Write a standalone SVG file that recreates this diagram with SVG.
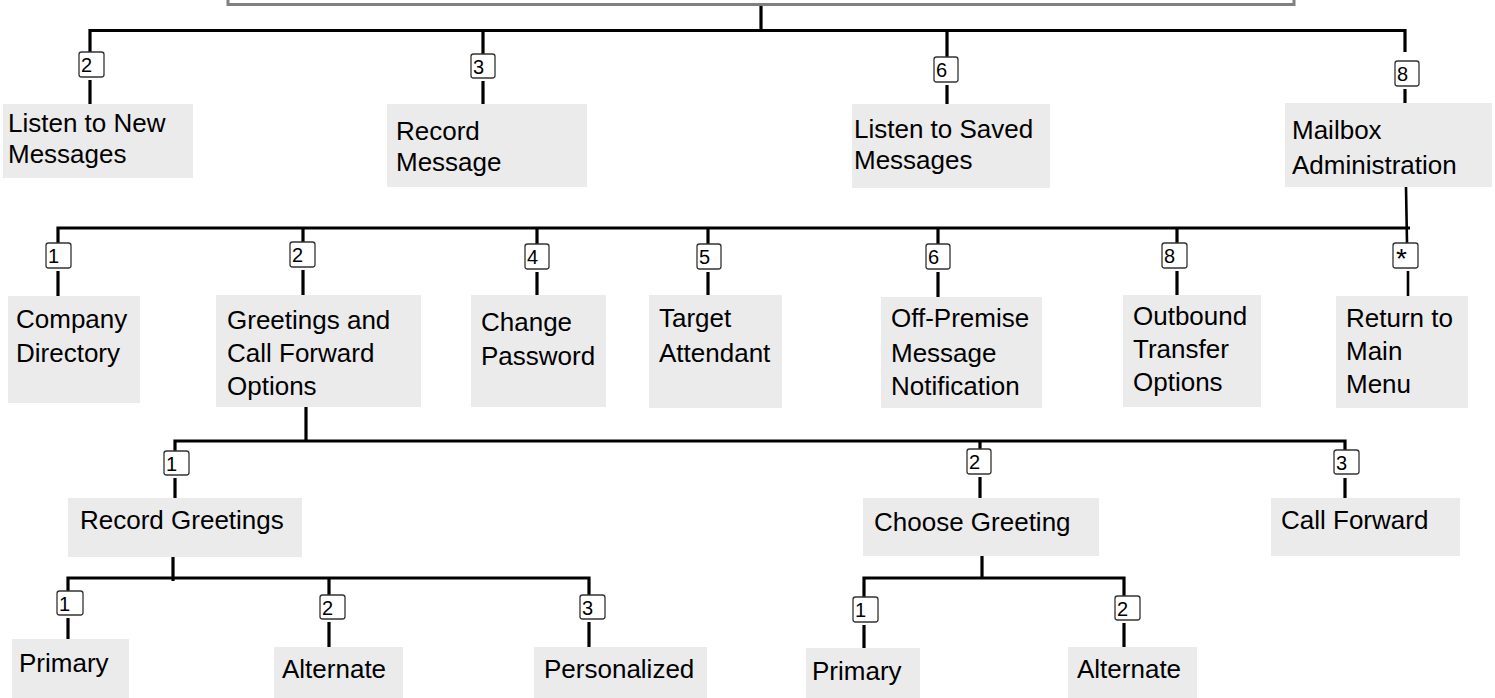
<svg xmlns="http://www.w3.org/2000/svg" width="1495" height="698" viewBox="0 0 1495 698">
<style>
.node{fill:#ebebeb;stroke:none}
.lbl{font-family:"Liberation Sans",Arial,Helvetica,sans-serif;font-size:26px;fill:#000}
.key{fill:#fff;stroke:#333;stroke-width:1.3}
.kt{font-family:"Liberation Sans",Arial,Helvetica,sans-serif;font-size:20px;fill:#000}
.ks{font-family:"Liberation Sans",Arial,Helvetica,sans-serif;font-size:28px;fill:#000}
.ln{fill:none;stroke:#000;stroke-width:3.2}
.ln2{fill:none;stroke:#000;stroke-width:2.6}
</style>
<rect width="1495" height="698" fill="#fff"/>
<g id="root">
<rect x="228" y="-30" width="1066" height="34.5" fill="none" stroke="#808080" stroke-width="3"/>
</g>
<g id="connectors">
<path class="ln" d="M761,6V32M90,34V30.5H1405V52M90,32V52M90,80V104M483,32V54M483,81V104M947,32V57M947,85V104M1405,89V103"/>
<path class="ln2" d="M1406,187L1407,243M1408,271V296"/>
<path class="ln" d="M58,243V228H1410M303,228V242M303,270V295M58,271V296M537,228V244M537,272V295M708,228V244M708,272V295M938,228V244M938,272V297M1177,228V243M1177,271V295"/>
<path class="ln" d="M306,407V441M175,451V441H1345V450M980,441V449M980,477V498M175,478V498M1345,478V498"/>
<path class="ln" d="M173,557V581M68,591V578H589V595M329,578V595M329,622V647M68,618V639M589,622V647"/>
<path class="ln" d="M982,556V578M864,597V578H1124V596M864,625V648M1124,623V647"/>
</g>
<g id="keys">
<rect class="key" x="79" y="52" width="25" height="25" rx="2.5"/><text class="kt" x="81" y="72">2</text>
<rect class="key" x="471" y="54" width="24" height="24" rx="2.5"/><text class="kt" x="473" y="73.5">3</text>
<rect class="key" x="934" y="57" width="24" height="25" rx="2.5"/><text class="kt" x="936" y="77">6</text>
<rect class="key" x="1395" y="61" width="24" height="25" rx="2.5"/><text class="kt" x="1397" y="81">8</text>
<rect class="key" x="46" y="243" width="25" height="25" rx="2.5"/><text class="kt" x="48" y="263">1</text>
<rect class="key" x="290" y="242" width="25" height="25" rx="2.5"/><text class="kt" x="292" y="262">2</text>
<rect class="key" x="525" y="244" width="24" height="25" rx="2.5"/><text class="kt" x="527" y="264">4</text>
<rect class="key" x="697" y="244" width="24" height="25" rx="2.5"/><text class="kt" x="699" y="264">5</text>
<rect class="key" x="926" y="244" width="24" height="25" rx="2.5"/><text class="kt" x="928" y="264">6</text>
<rect class="key" x="1162" y="243" width="25" height="25" rx="2.5"/><text class="kt" x="1164" y="263">8</text>
<rect class="key" x="1393" y="243" width="25" height="25" rx="2.5"/><text class="ks" x="1396" y="268">*</text>
<rect class="key" x="164" y="451" width="25" height="24" rx="2.5"/><text class="kt" x="166" y="470.5">1</text>
<rect class="key" x="967" y="449" width="24" height="25" rx="2.5"/><text class="kt" x="969" y="469">2</text>
<rect class="key" x="1334" y="450" width="25" height="24" rx="2.5"/><text class="kt" x="1336" y="469.5">3</text>
<rect class="key" x="57" y="591" width="26" height="24" rx="2.5"/><text class="kt" x="59" y="610.5">1</text>
<rect class="key" x="320" y="595" width="25" height="24" rx="2.5"/><text class="kt" x="322" y="614.5">2</text>
<rect class="key" x="580" y="595" width="25" height="24" rx="2.5"/><text class="kt" x="582" y="614.5">3</text>
<rect class="key" x="853" y="597" width="25" height="25" rx="2.5"/><text class="kt" x="855" y="617">1</text>
<rect class="key" x="1115" y="596" width="25" height="24" rx="2.5"/><text class="kt" x="1117" y="615.5">2</text>
</g>
<g id="n-listen-new"><rect class="node" x="3" y="104" width="190" height="74"/><text class="lbl"><tspan x="8" y="132">Listen to New</tspan><tspan x="8" y="163">Messages</tspan></text></g>
<g id="n-record-message"><rect class="node" x="387" y="104" width="200" height="83"/><text class="lbl"><tspan x="396" y="140">Record</tspan><tspan x="396" y="171">Message</tspan></text></g>
<g id="n-listen-saved"><rect class="node" x="852" y="104" width="198" height="84"/><text class="lbl"><tspan x="854" y="138">Listen to Saved</tspan><tspan x="854" y="169">Messages</tspan></text></g>
<g id="n-mailbox"><rect class="node" x="1285" y="103" width="207" height="84"/><text class="lbl"><tspan x="1292" y="139">Mailbox</tspan><tspan x="1292" y="174">Administration</tspan></text></g>
<g id="n-company"><rect class="node" x="8" y="296" width="132" height="107"/><text class="lbl"><tspan x="16" y="328">Company</tspan><tspan x="16" y="362">Directory</tspan></text></g>
<g id="n-greetings"><rect class="node" x="216" y="295" width="205" height="112"/><text class="lbl"><tspan x="227" y="329">Greetings and</tspan><tspan x="227" y="362">Call Forward</tspan><tspan x="227" y="395">Options</tspan></text></g>
<g id="n-change"><rect class="node" x="471" y="295" width="135" height="112"/><text class="lbl"><tspan x="481" y="331">Change</tspan><tspan x="481" y="365">Password</tspan></text></g>
<g id="n-target"><rect class="node" x="649" y="295" width="133" height="113"/><text class="lbl"><tspan x="659" y="327">Target</tspan><tspan x="659" y="362">Attendant</tspan></text></g>
<g id="n-offpremise"><rect class="node" x="881" y="297" width="161" height="111"/><text class="lbl"><tspan x="891" y="327">Off-Premise</tspan><tspan x="891" y="362">Message</tspan><tspan x="891" y="395">Notification</tspan></text></g>
<g id="n-outbound"><rect class="node" x="1123" y="295" width="138" height="112"/><text class="lbl"><tspan x="1133" y="325">Outbound</tspan><tspan x="1133" y="358">Transfer</tspan><tspan x="1133" y="391">Options</tspan></text></g>
<g id="n-return"><rect class="node" x="1336" y="296" width="132" height="112"/><text class="lbl"><tspan x="1346" y="327">Return to</tspan><tspan x="1346" y="360">Main</tspan><tspan x="1346" y="393">Menu</tspan></text></g>
<g id="n-record-greetings"><rect class="node" x="68" y="498" width="234" height="59"/><text class="lbl" x="80" y="529">Record Greetings</text></g>
<g id="n-choose-greeting"><rect class="node" x="863" y="498" width="236" height="58"/><text class="lbl" x="874" y="531">Choose Greeting</text></g>
<g id="n-call-forward"><rect class="node" x="1271" y="498" width="189" height="58"/><text class="lbl" x="1281" y="529">Call Forward</text></g>
<g id="n-primary-1"><rect class="node" x="12" y="639" width="117" height="59"/><text class="lbl" x="19" y="672">Primary</text></g>
<g id="n-alternate-1"><rect class="node" x="274" y="647" width="129" height="51"/><text class="lbl" x="282" y="678">Alternate</text></g>
<g id="n-personalized"><rect class="node" x="534" y="647" width="173" height="51"/><text class="lbl" x="544" y="678">Personalized</text></g>
<g id="n-primary-2"><rect class="node" x="806" y="648" width="114" height="50"/><text class="lbl" x="812" y="680">Primary</text></g>
<g id="n-alternate-2"><rect class="node" x="1068" y="647" width="129" height="51"/><text class="lbl" x="1077" y="678">Alternate</text></g>
</svg>
